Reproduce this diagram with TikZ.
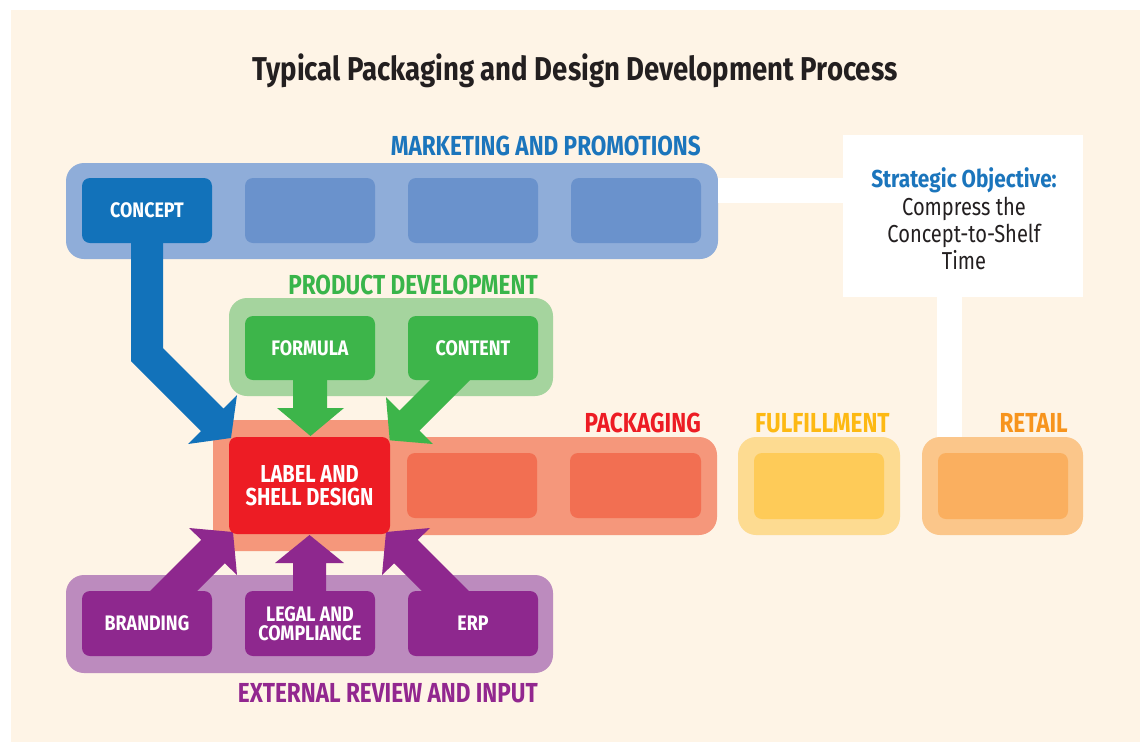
\documentclass[tikz,border=0pt]{standalone}
\usepackage{fontspec}
\newfontfamily\condtitle{Fira Sans}[FakeStretch=0.835]
\newfontfamily\condgroup{Fira Sans}[FakeStretch=0.82]
\newfontfamily\condbox{Fira Sans}[FakeStretch=0.85]
\newfontfamily\condreg{Fira Sans}[FakeStretch=0.82]
\definecolor{cream}{HTML}{FEF4E6}
\definecolor{ink}{HTML}{231F20}
\definecolor{mblue}{HTML}{1B75BC}
\definecolor{mdark}{HTML}{1272BA}
\definecolor{mouter}{HTML}{8FADD9}
\definecolor{minner}{HTML}{6A92CC}
\definecolor{ggreen}{HTML}{39B54A}
\definecolor{gouter}{HTML}{A5D49E}
\definecolor{ginner}{HTML}{3DB54A}
\definecolor{pred}{HTML}{ED1C24}
\definecolor{pouter}{HTML}{F5977B}
\definecolor{pinner}{HTML}{F26F52}
\definecolor{fyellow}{HTML}{FDB913}
\definecolor{fouter}{HTML}{FDDB91}
\definecolor{finner}{HTML}{FECB58}
\definecolor{rorange}{HTML}{F7941D}
\definecolor{router}{HTML}{FBC68A}
\definecolor{rinner}{HTML}{FAAF5F}
\definecolor{xpurple}{HTML}{92278F}
\definecolor{xouter}{HTML}{BC8BBE}
\definecolor{xinner}{HTML}{8E288E}
\begin{document}
\begin{tikzpicture}[x=1pt,y=-1pt,
  outerbox/.style={rounded corners=18pt,inner sep=0pt},
  innerbox/.style={rounded corners=8pt,inner sep=0pt,minimum width=130pt,minimum height=65pt,
    text=white,align=center,font=\condbox\bfseries\fontsize{21}{19}\selectfont},
  grouplabel/.style={font=\condgroup\bfseries\fontsize{27.5}{30}\selectfont,inner sep=0pt},
  stratline/.style={anchor=base,text=ink,inner sep=0pt,font=\condreg\fontsize{24.5}{27}\selectfont}]
\useasboundingbox (0,0) rectangle (1140,742);
\fill[cream] (11,10) rectangle (1140,742);

% title
\node[anchor=base,inner sep=0pt,text=ink,font=\condtitle\bfseries\fontsize{33}{36}\selectfont]
  (title) at (575,80) {Typical Packaging and Design Development Process};

% group labels
\node[grouplabel,anchor=base east,text=mblue] (lmkt) at (701,155) {MARKETING AND PROMOTIONS};
\node[grouplabel,anchor=base,text=ggreen] (lprod) at (413,294) {PRODUCT DEVELOPMENT};
\node[grouplabel,anchor=base east,text=pred] (lpack) at (701,432) {PACKAGING};
\node[grouplabel,anchor=base west,text=fyellow] (lful) at (755,432) {FULFILLMENT};
\node[grouplabel,anchor=base east,text=rorange] (lret) at (1068,432) {RETAIL};
\node[grouplabel,anchor=base east,text=xpurple] (lext) at (538,702) {EXTERNAL REVIEW AND INPUT};

% strategic objective panel and its text
\node[fill=white,inner sep=0pt,minimum width=240pt,minimum height=162pt] (strat) at (963,216) {};
\node[anchor=base,text=mblue,inner sep=0pt,font=\condbox\bfseries\fontsize{24.5}{27}\selectfont]
  (sobj) at (964,187) {Strategic Objective:};
\node[stratline] (s1) at (964,215) {Compress the};
\node[stratline] (s2) at (964,242) {Concept-to-Shelf};
\node[stratline] (s3) at (964,269) {Time};

% outer group boxes
\node[outerbox,fill=mouter,minimum width=652pt,minimum height=96pt] (mkt) at (392,211) {};
\node[outerbox,fill=gouter,minimum width=324pt,minimum height=98pt] (prod) at (391,347) {};
\node[outerbox,fill=pouter,minimum width=504pt,minimum height=98pt] (pack) at (465,486) {};
\node[rounded corners=3pt,fill=pouter,inner sep=0pt,minimum width=178pt,minimum height=131pt] (packx) at (302,485.5) {};
\node[outerbox,fill=fouter,minimum width=162pt,minimum height=98pt] (ful) at (819,486) {};
\node[outerbox,fill=router,minimum width=161pt,minimum height=98pt] (ret) at (1002.5,486) {};
\node[outerbox,fill=xouter,minimum width=487pt,minimum height=98pt] (ext) at (309.5,624) {};

% white links to the strategic objective
\fill[white] (mkt.east |- 0,178) rectangle (strat.west |- 0,203);
\fill[white] (937,0 |- strat.south) rectangle (962,0 |- ret.north);

% block arrows into label and shelf design
\fill[mdark] (131,240) -- (163,240) -- (163,348) -- (223.5,408.5) -- (237,395) -- (231,438)
  -- (188,444) -- (201,431) -- (131,361) -- cycle;
\fill[ginner] (293,378) -- (327,378) -- (327,408) -- (344,408) -- (310.5,436) -- (277,408)
  -- (293,408) -- cycle;
\fill[ginner] (432,378) -- (472,378) -- (419.5,430.5) -- (433,444) -- (389.7,440.3)
  -- (386,397) -- (399.5,410.5) -- cycle;
\fill[xinner] (148,593) -- (201.25,539.75) -- (189,528) -- (233,532) -- (237,575)
  -- (224.75,563.25) -- (195,593) -- cycle;
\fill[xinner] (293,593) -- (326,593) -- (326,563) -- (344,563) -- (309.5,535) -- (275,563)
  -- (293,563) -- cycle;
\fill[xinner] (471,593) -- (417.75,539.75) -- (430,528) -- (386,532) -- (382,575)
  -- (394.25,563.25) -- (424,593) -- cycle;

% inner boxes
\node[innerbox,fill=mdark] (concept) at (147,210.5) {CONCEPT};
\node[innerbox,fill=minner] (m2) at (310,210.5) {};
\node[innerbox,fill=minner] (m3) at (473,210.5) {};
\node[innerbox,fill=minner] (m4) at (636,210.5) {};
\node[innerbox,fill=ginner,minimum height=64pt] (formula) at (310,348) {FORMULA};
\node[innerbox,fill=ginner,minimum height=64pt] (content) at (473,348) {CONTENT};
\node[innerbox,fill=pred,minimum width=161pt,minimum height=97pt,
  font=\condgroup\bfseries\fontsize{24.5}{22.5}\selectfont] (label) at (309.5,485.5) {LABEL AND\\SHELL DESIGN};
\node[innerbox,fill=pinner] (p2) at (472,485.5) {};
\node[innerbox,fill=pinner,minimum width=131pt] (p3) at (635.5,485.5) {};
\node[innerbox,fill=finner,minimum height=66pt] (f1) at (819,486) {};
\node[innerbox,fill=rinner,minimum height=66pt] (r1) at (1003,486) {};
\node[innerbox,fill=xinner] (brand) at (147,623.5) {BRANDING};
\node[innerbox,fill=xinner] (legal) at (310,623.5) {LEGAL AND\\COMPLIANCE};
\node[innerbox,fill=xinner] (erp) at (473,623.5) {ERP};
\end{tikzpicture}
\end{document}
